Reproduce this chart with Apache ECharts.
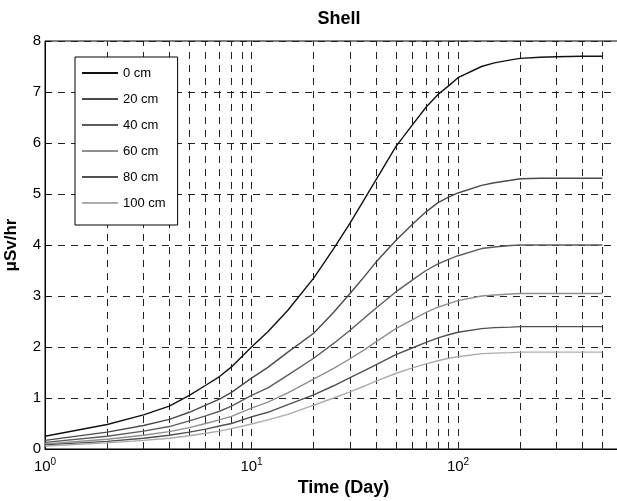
<!DOCTYPE html>
<html lang="en">
<head>
    <meta charset="UTF-8">
    <title>Shell</title>
    <script src="https://cdn.jsdelivr.net/npm/echarts@6/dist/echarts.min.js"></script>
    <style>
        html, body { margin: 0; padding: 0; background: #fff; }
        #container { width: 617px; height: 501px; }
    </style>
</head>
<body>
<div id="container"></div>
<script>
    // time in days (log axis)
    const days  = [1, 2, 3, 4, 5, 6, 7, 8, 10, 12, 15, 20, 25, 30, 35, 40, 50, 60, 70, 80, 90, 100, 130, 150, 180, 200, 250, 300, 400, 500];
    // dose rate, uSv/hr
    const cm0   = [0.25, 0.48, 0.67, 0.84, 1.05, 1.25, 1.42, 1.61, 2.00, 2.30, 2.72, 3.35, 3.93, 4.43, 4.88, 5.27, 5.93, 6.35, 6.70, 6.95, 7.12, 7.28, 7.50, 7.57, 7.63, 7.66, 7.68, 7.69, 7.70, 7.70];
    const cm20  = [0.17, 0.33, 0.46, 0.58, 0.72, 0.86, 0.98, 1.11, 1.39, 1.60, 1.90, 2.27, 2.68, 3.05, 3.37, 3.66, 4.09, 4.40, 4.65, 4.83, 4.94, 5.02, 5.17, 5.22, 5.27, 5.30, 5.31, 5.31, 5.31, 5.31];
    const cm40  = [0.13, 0.25, 0.35, 0.44, 0.55, 0.65, 0.74, 0.84, 1.05, 1.20, 1.45, 1.78, 2.07, 2.33, 2.56, 2.76, 3.08, 3.31, 3.50, 3.63, 3.72, 3.79, 3.93, 3.96, 3.99, 4.00, 4.00, 4.00, 4.00, 4.00];
    const cm60  = [0.10, 0.19, 0.27, 0.34, 0.42, 0.50, 0.57, 0.64, 0.80, 0.92, 1.10, 1.37, 1.58, 1.77, 1.94, 2.10, 2.36, 2.53, 2.68, 2.78, 2.85, 2.91, 3.00, 3.02, 3.04, 3.05, 3.05, 3.05, 3.05, 3.05];
    const cm80  = [0.08, 0.15, 0.21, 0.27, 0.33, 0.39, 0.45, 0.50, 0.63, 0.72, 0.87, 1.06, 1.24, 1.40, 1.53, 1.65, 1.85, 1.98, 2.09, 2.18, 2.24, 2.29, 2.36, 2.38, 2.39, 2.40, 2.40, 2.40, 2.40, 2.40];
    const cm100 = [0.06, 0.12, 0.17, 0.21, 0.26, 0.31, 0.35, 0.40, 0.49, 0.57, 0.68, 0.86, 1.00, 1.12, 1.23, 1.33, 1.48, 1.59, 1.67, 1.73, 1.78, 1.81, 1.87, 1.88, 1.89, 1.90, 1.90, 1.90, 1.90, 1.90];

    const seriesNames = ['0 cm', '20 cm', '40 cm', '60 cm', '80 cm', '100 cm'];
    const seriesValues = [cm0, cm20, cm40, cm60, cm80, cm100];
    const seriesColors = ['#111111', '#4a4a4a', '#5c5c5c', '#8f8f8f', '#505050', '#ababab'];

    // vertical dashed grid positions (decade sub-divisions)
    const xGridLines = [2, 3, 4, 5, 6, 7, 8, 9, 10, 20, 30, 40, 50, 60, 70, 80, 90, 100, 200, 300, 400, 500];

    const font = 'Liberation Sans, Arial, Helvetica, sans-serif';
    const dash = [7, 6];

    var dom = document.getElementById('container');
    var myChart = echarts.init(dom, null, {renderer: 'canvas'});

    var series = seriesNames.map(function (name, i) {
        var s = {
            name: name,
            type: 'line',
            data: days.map(function (d, j) { return [d, seriesValues[i][j]]; }),
            showSymbol: false,
            smooth: false,
            lineStyle: {color: seriesColors[i], width: 1.4},
            itemStyle: {color: seriesColors[i]},
            z: 3
        };
        if (i === 0) {
            s.markLine = {
                silent: true,
                symbol: ['none', 'none'],
                label: {show: false},
                animation: false,
                lineStyle: {color: '#222', width: 1, type: dash},
                data: xGridLines.map(function (v) { return {xAxis: v}; }),
                z: 1
            };
        }
        return s;
    });

    var option = {
        animation: false,
        backgroundColor: '#fff',
        textStyle: {fontFamily: font},
        title: {
            text: 'Shell',
            left: 334,
            top: 5,
            textAlign: 'center',
            textStyle: {fontFamily: font, fontSize: 18, fontWeight: 'bold', color: '#000'}
        },
        legend: {
            orient: 'vertical',
            left: 75,
            top: 57,
            padding: [9, 12, 15, 7],
            itemGap: 12,
            itemWidth: 36,
            itemHeight: 2,
            icon: 'rect',
            borderColor: '#000',
            borderWidth: 1,
            backgroundColor: '#fff',
            textStyle: {fontFamily: font, fontSize: 13, color: '#000', lineHeight: 14},
            data: seriesNames
        },
        grid: {
            left: 45,
            top: 41,
            bottom: 52,
            right: -25,
            outerBoundsMode: 'none',
            containLabel: false,
            show: true,
            borderColor: '#000',
            borderWidth: 1,
            backgroundColor: 'transparent'
        },
        xAxis: {
            type: 'log',
            logBase: 10,
            min: 1,
            max: 778,
            name: 'Time (Day)',
            nameLocation: 'middle',
            nameGap: 28,
            nameTextStyle: {fontFamily: font, fontSize: 18, fontWeight: 'bold', color: '#000'},
            axisLine: {lineStyle: {color: '#000', width: 1}},
            axisTick: {show: false},
            splitLine: {show: false},
            axisLabel: {
                margin: 8,
                color: '#000',
                fontSize: 15,
                fontFamily: font,
                formatter: function (v) {
                    var e = Math.round(Math.log10(v));
                    if (Math.abs(Math.pow(10, e) - v) > 1e-6) return '';
                    return '10{s|' + e + '}';
                },
                rich: {
                    s: {fontSize: 10, verticalAlign: 'top', padding: [0, 0, 10, 0], fontFamily: font, color: '#000'}
                }
            }
        },
        yAxis: {
            type: 'value',
            min: 0,
            max: 8,
            interval: 1,
            name: 'μSv/hr',
            nameLocation: 'middle',
            nameGap: 25,
            nameTextStyle: {fontFamily: font, fontSize: 17, fontWeight: 'bold', color: '#000'},
            axisLine: {show: true, lineStyle: {color: '#000', width: 1}},
            axisTick: {show: true, inside: true, length: 5, lineStyle: {color: '#000'}},
            axisLabel: {margin: 4, color: '#000', fontSize: 15, fontFamily: font},
            splitLine: {show: true, lineStyle: {color: '#222', width: 1, type: dash}}
        },
        series: series
    };

    if (option && typeof option === 'object') {
        myChart.setOption(option);
    }
    window.addEventListener('resize', myChart.resize);
</script>
</body>
</html>
